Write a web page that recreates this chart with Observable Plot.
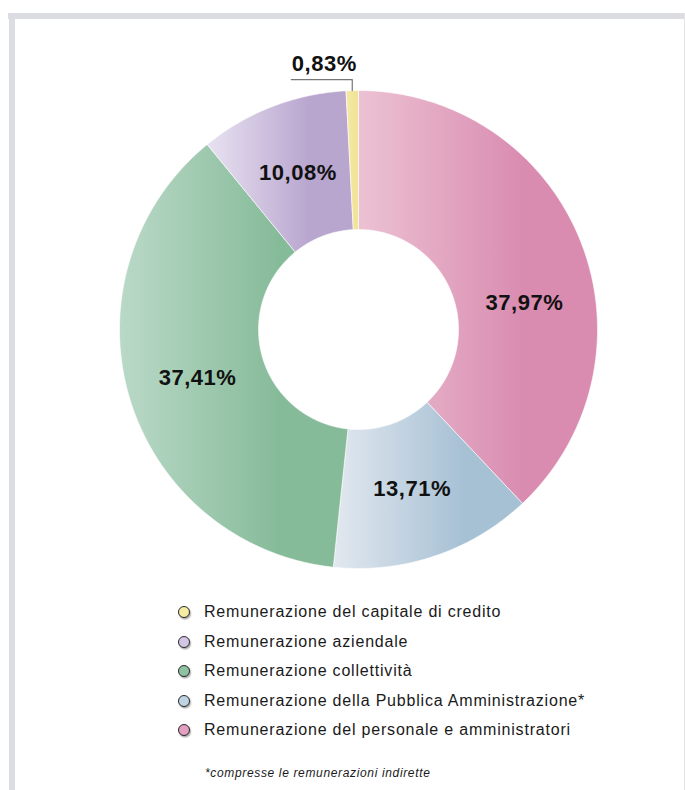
<!DOCTYPE html>
<html>
<head>
<meta charset="utf-8">
<script src="https://cdn.jsdelivr.net/npm/d3@7"></script>
<script src="https://cdn.jsdelivr.net/npm/@observablehq/plot@0.6"></script>
<style>
  html, body { margin: 0; padding: 0; background: #fff; }
  body { width: 685px; height: 790px; position: relative; overflow: hidden; font-family: "Liberation Sans", Arial, Helvetica, sans-serif; }
  .bar-top { position: absolute; left: 8px; right: 0; top: 13px; height: 6px; background: #dcdde2; }
  .bar-left { position: absolute; left: 9px; width: 6px; top: 13px; bottom: 0; background: #dcdde2; }
  .bar-right { position: absolute; left: 684px; width: 1px; top: 13px; bottom: 0; background: #e4e4e6; }
  #chart { position: absolute; left: 0; top: 0; }
  #legend { position: absolute; left: 0; top: 0; width: 685px; height: 790px; pointer-events: none; }
  .item { position: absolute; left: 178px; height: 20px; display: flex; align-items: center; font-size: 16px; letter-spacing: 0.8px; color: #1a1a1a; }
  .dot { width: 10px; height: 10px; border-radius: 50%; border: 1.4px solid #2a2a2a; box-shadow: 1px 1.5px 1.5px rgba(0,0,0,0.35); margin-right: 14px; }
  .note { position: absolute; left: 205px; top: 766px; font-size: 12px; letter-spacing: 0.65px; font-style: italic; color: #1a1a1a; }
  #chart text { letter-spacing: 0.5px; }
</style>
</head>
<body>
<div class="bar-top"></div>
<div class="bar-left"></div>
<div class="bar-right"></div>
<div id="chart"></div>
<div id="legend"></div>
<script>
// ---- data (clockwise from 12 o'clock) ----
const categories = [
  "Remunerazione del personale e amministratori",
  "Remunerazione della Pubblica Amministrazione*",
  "Remunerazione collettività",
  "Remunerazione aziendale",
  "Remunerazione del capitale di credito"
];
const values = [37.97, 13.71, 37.41, 10.08, 0.83];
const lightColors = ["#ecc2d3", "#e2e8ef", "#bad9c8", "#e8e2f1", "#f4eaa8"];
const darkColors  = ["#d98bb0", "#a6c0d4", "#86bb99", "#b9a6cf", "#f1e49a"];
const legendColors = ["#e39fbf", "#bfd3e2", "#8ec3a2", "#d3c6e5", "#f5eba3"];
const legendOrder = [4, 3, 2, 1, 0];
const footnote = "*compresse le remunerazioni indirette";

// ---- geometry ----
const W = 685, H = 590;
const R = 239, r0 = 100;          // outer / inner radius (px units)
const cx = 358, cy = 329;          // centre in page px
const total = d3.sum(values);
const ends = d3.cumsum(values);
const slices = values.map((v, i) => {
  const a0 = (ends[i] - v) / total * 2 * Math.PI;
  const a1 = ends[i] / total * 2 * Math.PI;
  // first (large, right-hand) label sits lower in its slice, as in the original
  const shift = i === 0 ? 0.22 : 0;
  return {i, v, a0, a1, am: (a0 + a1) / 2, al: (a0 + a1) / 2 + shift};
});
const pt = (rad, a) => ({x: rad * Math.sin(a), y: rad * Math.cos(a)});

function slicePoly(s) {
  const n = Math.max(4, Math.ceil((s.a1 - s.a0) / 0.01));
  const pts = [];
  for (let k = 0; k <= n; k++) pts.push(pt(R, s.a0 + (s.a1 - s.a0) * k / n));
  for (let k = n; k >= 0; k--) pts.push(pt(r0, s.a0 + (s.a1 - s.a0) * k / n));
  pts.push(pts[0]);
  return pts;
}

const fmt = v => v.toFixed(2).replace(".", ",") + "%";
const big = slices.filter(s => s.v >= 5);
const small = slices.filter(s => s.v < 5);
const labelR = 168;

const leaders = small.map(s => {
  const p = pt(R, s.am);
  return [p, {x: p.x, y: p.y + 11}, {x: p.x - 61, y: p.y + 11}];
});

const plot = Plot.plot({
  width: W, height: H,
  margin: 0,
  x: {domain: [-cx, W - cx], axis: null},
  y: {domain: [cy - H, cy], axis: null},
  marks: [
    ...slices.map(s => Plot.line(slicePoly(s), {
      x: "x", y: "y", fill: `url(#grad${s.i})`, stroke: "white", strokeWidth: 0.6, curve: "linear"
    })),
    Plot.text(big, {
      x: s => labelR * Math.sin(s.al),
      y: s => labelR * Math.cos(s.al),
      text: s => fmt(s.v),
      fontSize: 22, fontWeight: "bold", fill: "#111",
      fontFamily: "Liberation Sans, Arial, sans-serif"
    }),
    ...leaders.map(L => Plot.line(L, {x: "x", y: "y", stroke: "#777", strokeWidth: 1.2})),
    Plot.text(small, {
      x: s => R * Math.sin(s.am) - 28,
      y: s => R * Math.cos(s.am) + 27,
      text: s => fmt(s.v),
      fontSize: 22, fontWeight: "bold", fill: "#111",
      fontFamily: "Liberation Sans, Arial, sans-serif"
    })
  ]
});

// gradients (light on the left, saturated on the right of each slice)
const defs = d3.select(plot).insert("defs", ":first-child");
slices.forEach(s => {
  const g = defs.append("linearGradient").attr("id", `grad${s.i}`)
    .attr("x1", 0).attr("x2", 1).attr("y1", 0).attr("y2", 0);
  g.append("stop").attr("offset", 0).attr("stop-color", lightColors[s.i]);
  g.append("stop").attr("offset", 0.7).attr("stop-color", darkColors[s.i]);
  g.append("stop").attr("offset", 1).attr("stop-color", darkColors[s.i]);
});
document.getElementById("chart").appendChild(plot);

// legend
const leg = document.getElementById("legend");
const rowY = [612, 642, 671, 701, 730];
legendOrder.forEach((idx, k) => {
  const it = document.createElement("div");
  it.className = "item";
  it.style.top = (rowY[k] - 10) + "px";
  const d = document.createElement("span");
  d.className = "dot";
  d.style.background = legendColors[idx];
  const t = document.createElement("span");
  t.textContent = categories[idx];
  it.appendChild(d); it.appendChild(t);
  leg.appendChild(it);
});
const note = document.createElement("div");
note.className = "note";
note.textContent = footnote;
leg.appendChild(note);
</script>
</body>
</html>
